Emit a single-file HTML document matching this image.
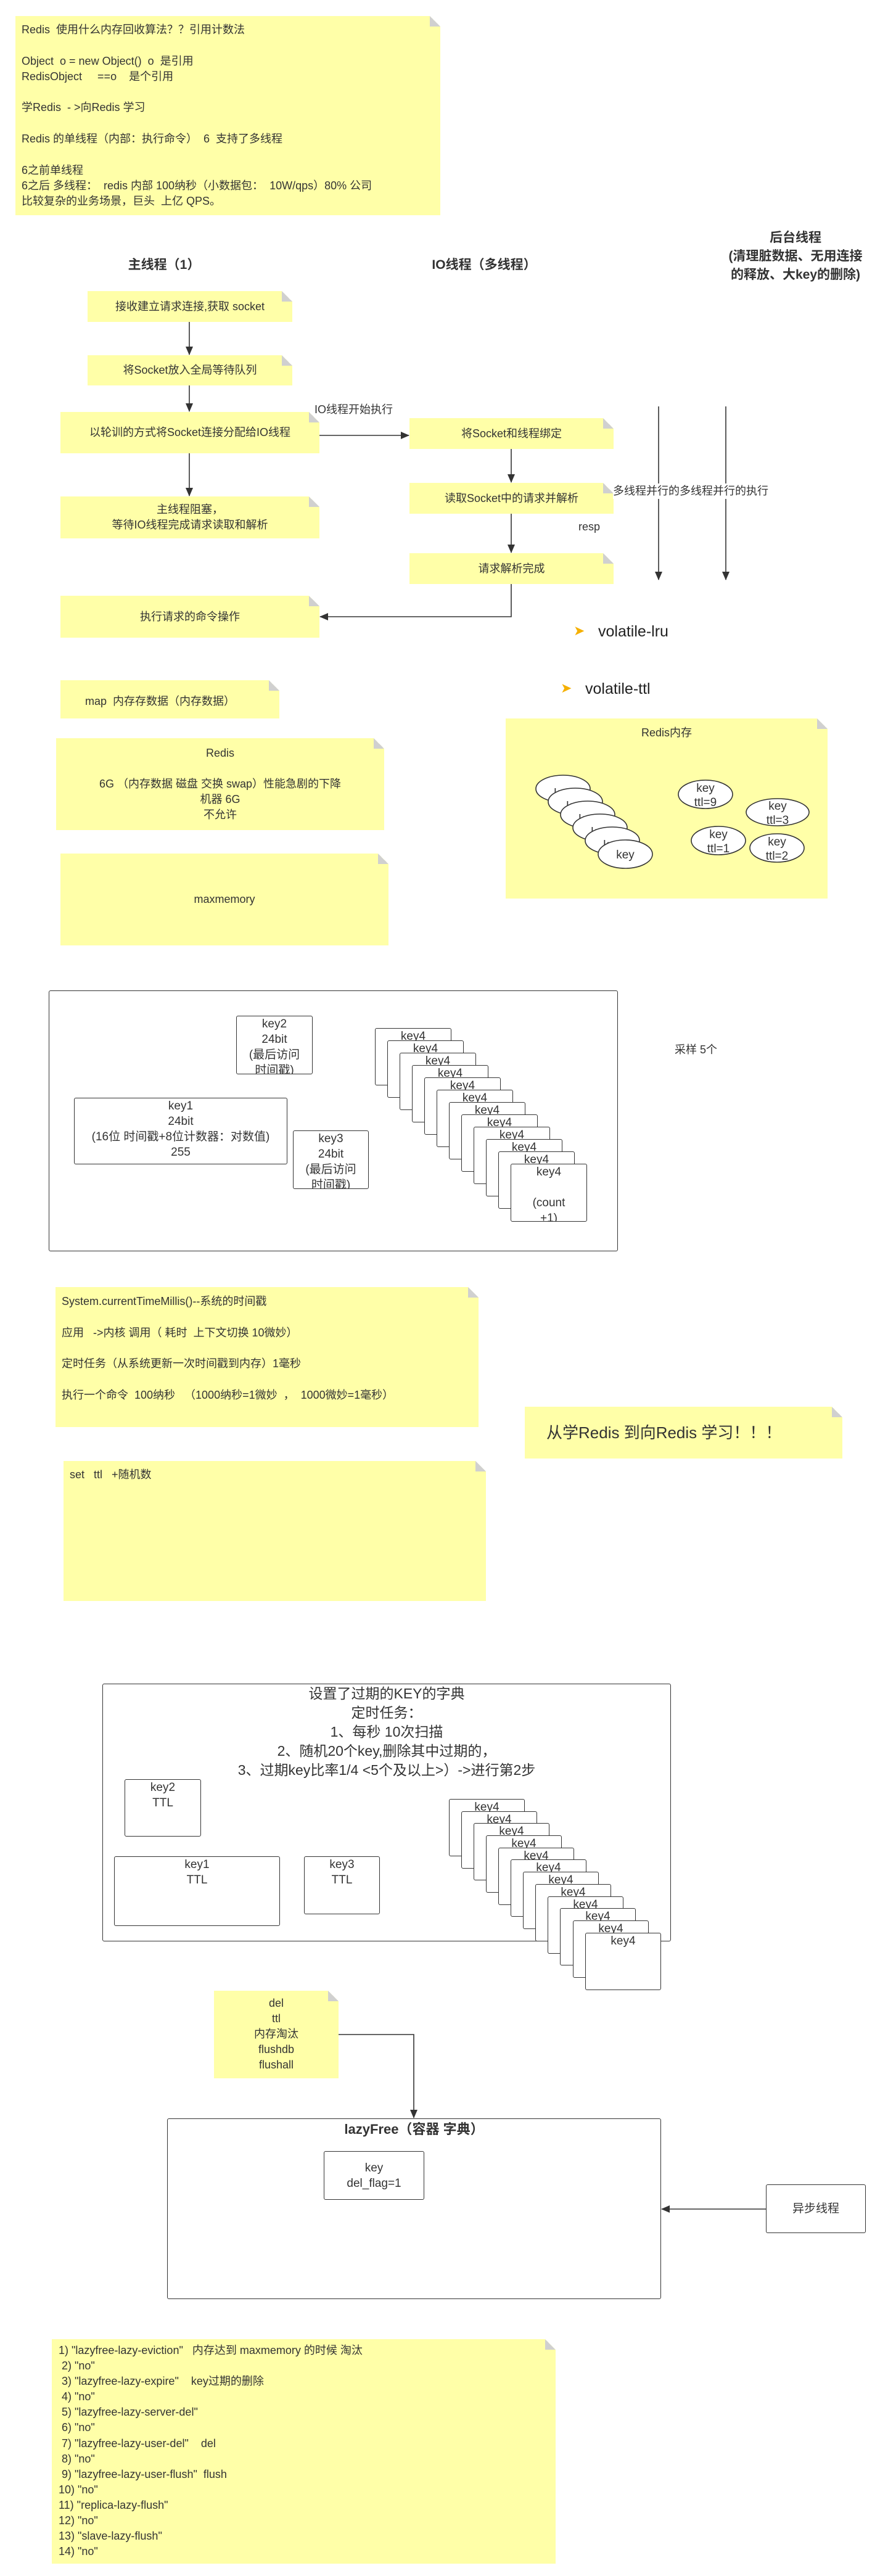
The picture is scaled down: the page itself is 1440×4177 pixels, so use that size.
<!DOCTYPE html>
<html><head><meta charset="utf-8">
<style>
*{margin:0;padding:0;box-sizing:border-box}
body{width:1440px;height:4177px;position:relative;background:#fff;font-family:"Liberation Sans","Noto Sans CJK SC",sans-serif;color:#333;font-size:18px;overflow:hidden}
.n{position:absolute;background:#ffffa8;clip-path:polygon(0 0,calc(100% - 17px) 0,100% 17px,100% 100%,0 100%)}
.n::after{content:"";position:absolute;right:0;top:0;width:17px;height:17px;background:linear-gradient(to top right,#d0d0d0 50%,transparent 50%)}
.c{display:flex;align-items:center;justify-content:center;text-align:center;line-height:25px}
.t{position:absolute;white-space:pre;line-height:25px}
.b{position:absolute;border:1.5px solid #333;border-radius:3px;background:#fff}
.k{position:absolute;border:1.5px solid #333;border-radius:3px;background:#fff;text-align:center;line-height:25px;font-size:19px;overflow:hidden}
.h{position:absolute;font-weight:bold;font-size:21px;text-align:center;line-height:30px;white-space:pre}
svg{position:absolute;left:0;top:0}
</style></head><body>

<div class="n" style="left:25px;top:26px;width:689px;height:323px;padding:10px 0 0 10px"><div style="white-space:pre;line-height:25.3px">Redis  使用什么内存回收算法？？引用计数法

Object  o = new Object()  o  是引用
RedisObject     ==o    是个引用

学Redis  - >向Redis 学习

Redis 的单线程（内部：执行命令）  6  支持了多线程

6之前单线程
6之后 多线程：  redis 内部 100纳秒（小数据包：  10W/qps）80% 公司
比较复杂的业务场景，巨头  上亿 QPS。</div></div>

<div class="h" style="left:166px;top:415px;width:200px">主线程（1）</div>
<div class="h" style="left:665px;top:415px;width:240px">IO线程（多线程）</div>
<div class="h" style="left:1150px;top:371px;width:280px;line-height:30px">后台线程
(清理脏数据、无用连接
的释放、大key的删除)</div>

<div class="n c" style="left:142px;top:472px;width:332px;height:50px">接收建立请求连接,获取 socket</div>
<div class="n c" style="left:142px;top:576px;width:332px;height:49px">将Socket放入全局等待队列</div>
<div class="n c" style="left:98px;top:668px;width:420px;height:67px">以轮训的方式将Socket连接分配给IO线程</div>
<div class="n c" style="left:98px;top:805px;width:420px;height:68px">主线程阻塞，<br>等待IO线程完成请求读取和解析</div>
<div class="n c" style="left:98px;top:966px;width:420px;height:68px">执行请求的命令操作</div>

<div class="n c" style="left:664px;top:678px;width:331px;height:50px">将Socket和线程绑定</div>
<div class="n c" style="left:664px;top:783px;width:331px;height:50px">读取Socket中的请求并解析</div>
<div class="n c" style="left:664px;top:897px;width:331px;height:50px">请求解析完成</div>

<svg width="1440" height="4177" style="z-index:1">
<defs><marker id="a" markerWidth="10" markerHeight="10" refX="9" refY="5" orient="auto" markerUnits="userSpaceOnUse"><path d="M0,0 L10,5 L0,10 z" fill="#333"/></marker>
<marker id="a2" markerWidth="14" markerHeight="12" refX="13" refY="6" orient="auto" markerUnits="userSpaceOnUse"><path d="M0,0 L14,6 L0,12 z" fill="#333"/></marker></defs>
<g stroke="#333" stroke-width="1.6" fill="none" marker-end="url(#a2)">
<line x1="307" y1="522" x2="307" y2="575"/>
<line x1="307" y1="625" x2="307" y2="667"/>
<line x1="307" y1="735" x2="307" y2="804"/>
<path d="M518,706 L663,706"/>
<line x1="829" y1="728" x2="829" y2="782"/>
<line x1="829" y1="833" x2="829" y2="896"/>
<path d="M829,947 L829,1000 L519,1000"/>
<line x1="1068" y1="659" x2="1068" y2="940"/>
<line x1="1177" y1="659" x2="1177" y2="940"/>
<path d="M549,3299 L671,3299 L671,3434"/>
<line x1="1242" y1="3582" x2="1073" y2="3582"/>
</g>
</svg>
<div class="t" style="left:510px;top:652px;z-index:2">IO线程开始执行</div>
<div class="t" style="left:994px;top:784px;background:#fff;z-index:2">多线程并行的多线程并行的执行</div>
<div class="t" style="left:938px;top:842px;z-index:2">resp</div>

<div class="t" style="left:930px;top:1008px;font-size:22px;color:#f5b000;line-height:30px">➤</div>
<div class="t" style="left:970px;top:1008px;font-size:25px;color:#222;line-height:32px">volatile-lru</div>
<div class="t" style="left:909px;top:1101px;font-size:22px;color:#f5b000;line-height:30px">➤</div>
<div class="t" style="left:949px;top:1101px;font-size:25px;color:#222;line-height:32px">volatile-ttl</div>

<div class="n" style="left:98px;top:1103px;width:355px;height:62px"><div class="t" style="left:40px;top:22px">map  内存存数据（内存数据）</div></div>
<div class="n c" style="left:91px;top:1197px;width:532px;height:149px;align-items:flex-start;padding-top:12px">Redis<br><br>6G （内存数据  磁盘 交换 swap）性能急剧的下降<br>机器 6G<br>不允许</div>
<div class="n c" style="left:98px;top:1384px;width:532px;height:149px">maxmemory</div>

<div class="n" style="left:820px;top:1165px;width:522px;height:292px"><div class="t" style="left:0;width:522px;text-align:center;top:11px">Redis内存</div></div>
<svg width="1440" height="4177" style="z-index:3">
<g stroke="#333" stroke-width="1.6" fill="#fff" font-family="Liberation Sans,Noto Sans CJK SC,sans-serif" font-size="19" text-anchor="middle">
<ellipse cx="913" cy="1279" rx="44" ry="22"/><text x="913" y="1292" stroke="none" fill="#333">key</text>
<ellipse cx="933" cy="1300" rx="44" ry="22"/><text x="933" y="1313" stroke="none" fill="#333">key</text>
<ellipse cx="953" cy="1321" rx="44" ry="22"/><text x="953" y="1334" stroke="none" fill="#333">key</text>
<ellipse cx="973" cy="1342" rx="44" ry="22"/><text x="973" y="1355" stroke="none" fill="#333">key</text>
<ellipse cx="993" cy="1363" rx="44" ry="22"/><text x="993" y="1376" stroke="none" fill="#333">key</text>
<ellipse cx="1014" cy="1385" rx="44" ry="23"/><text x="1014" y="1392" stroke="none" fill="#333">key</text>
<ellipse cx="1144" cy="1288" rx="44" ry="23"/><text x="1144" y="1284" stroke="none" fill="#333">key</text><text x="1144" y="1307" stroke="none" fill="#333">ttl=9</text>
<ellipse cx="1261" cy="1317" rx="51" ry="22"/><text x="1261" y="1313" stroke="none" fill="#333">key</text><text x="1261" y="1336" stroke="none" fill="#333">ttl=3</text>
<ellipse cx="1165" cy="1363" rx="44" ry="23"/><text x="1165" y="1359" stroke="none" fill="#333">key</text><text x="1165" y="1382" stroke="none" fill="#333">ttl=1</text>
<ellipse cx="1260" cy="1375" rx="44" ry="23"/><text x="1260" y="1371" stroke="none" fill="#333">key</text><text x="1260" y="1394" stroke="none" fill="#333">ttl=2</text>
</g></svg>

<div class="b" style="left:79px;top:1606px;width:923px;height:423px"></div>
<div class="k" style="left:383px;top:1647px;width:124px;height:95px">key2<br>24bit<br>(最后访问<br>时间戳)</div>
<div class="k" style="left:120px;top:1780px;width:346px;height:108px">key1<br>24bit<br>(16位 时间戳+8位计数器：对数值)<br>255</div>
<div class="k" style="left:475px;top:1833px;width:123px;height:95px">key3<br>24bit<br>(最后访问<br>时间戳)</div>
<div class="k" style="left:608px;top:1667px;width:124px;height:93px">key4</div>
<div class="k" style="left:628px;top:1687px;width:124px;height:93px">key4</div>
<div class="k" style="left:648px;top:1707px;width:124px;height:93px">key4</div>
<div class="k" style="left:668px;top:1727px;width:124px;height:93px">key4</div>
<div class="k" style="left:688px;top:1747px;width:124px;height:93px">key4</div>
<div class="k" style="left:708px;top:1767px;width:124px;height:93px">key4</div>
<div class="k" style="left:728px;top:1787px;width:124px;height:93px">key4</div>
<div class="k" style="left:748px;top:1807px;width:124px;height:93px">key4</div>
<div class="k" style="left:768px;top:1827px;width:124px;height:93px">key4</div>
<div class="k" style="left:788px;top:1847px;width:124px;height:93px">key4</div>
<div class="k" style="left:808px;top:1867px;width:124px;height:93px">key4</div>
<div class="k" style="left:828px;top:1887px;width:124px;height:94px">key4<br><br>(count<br>+1)</div>
<div class="t" style="left:1094px;top:1690px">采样 5个</div>

<div class="n" style="left:90px;top:2087px;width:686px;height:227px"><div class="t" style="left:10px;top:11px;line-height:25.3px">System.currentTimeMillis()--系统的时间戳

应用   ->内核 调用（ 耗时  上下文切换 10微妙）

定时任务（从系统更新一次时间戳到内存）1毫秒

执行一个命令  100纳秒   （1000纳秒=1微妙  ，  1000微妙=1毫秒）</div></div>
<div class="n" style="left:851px;top:2281px;width:515px;height:84px"><div class="t" style="left:35px;top:24px;font-size:26px;line-height:36px">从学Redis 到向Redis 学习！！！</div></div>
<div class="n" style="left:103px;top:2369px;width:685px;height:227px"><div class="t" style="left:10px;top:10px">set   ttl   +随机数</div></div>

<div class="b" style="left:166px;top:2730px;width:922px;height:418px"></div>
<div class="t" style="left:166px;top:2731px;width:922px;text-align:center;font-size:23px;line-height:31px">设置了过期的KEY的字典
定时任务：
1、每秒 10次扫描
2、随机20个key,删除其中过期的，
3、过期key比率1/4 &lt;5个及以上&gt;）-&gt;进行第2步</div>
<div class="k" style="left:202px;top:2885px;width:124px;height:93px;padding-top:0">key2<br>TTL</div>
<div class="k" style="left:185px;top:3010px;width:269px;height:113px">key1<br>TTL</div>
<div class="k" style="left:493px;top:3010px;width:123px;height:94px">key3<br>TTL</div>
<div class="k" style="left:728px;top:2917px;width:123px;height:93px">key4</div>
<div class="k" style="left:748px;top:2937px;width:123px;height:93px">key4</div>
<div class="k" style="left:768px;top:2956px;width:123px;height:93px">key4</div>
<div class="k" style="left:788px;top:2976px;width:123px;height:93px">key4</div>
<div class="k" style="left:808px;top:2996px;width:123px;height:93px">key4</div>
<div class="k" style="left:828px;top:3015px;width:123px;height:93px">key4</div>
<div class="k" style="left:848px;top:3035px;width:123px;height:93px">key4</div>
<div class="k" style="left:868px;top:3055px;width:123px;height:93px">key4</div>
<div class="k" style="left:888px;top:3075px;width:123px;height:93px">key4</div>
<div class="k" style="left:908px;top:3094px;width:123px;height:93px">key4</div>
<div class="k" style="left:929px;top:3114px;width:123px;height:93px">key4</div>
<div class="k" style="left:949px;top:3134px;width:123px;height:93px">key4</div>

<div class="n c" style="left:347px;top:3228px;width:202px;height:142px;align-items:flex-start;padding-top:8px">del<br>ttl<br>内存淘汰<br>flushdb<br>flushall</div>

<div class="b" style="left:271px;top:3435px;width:801px;height:293px"></div>
<div class="h" style="left:271px;top:3438px;width:801px;font-size:22px">lazyFree（容器 字典）</div>
<div class="k" style="left:525px;top:3488px;width:163px;height:79px;padding-top:14px">key<br>del_flag=1</div>
<div class="k c" style="left:1242px;top:3542px;width:162px;height:79px;display:flex">异步线程</div>

<div class="n" style="left:84px;top:3793px;width:817px;height:364px"><div class="t" style="left:11px;top:6px;line-height:25.1px">1) "lazyfree-lazy-eviction"   内存达到 maxmemory 的时候 淘汰
 2) "no"
 3) "lazyfree-lazy-expire"    key过期的删除
 4) "no"
 5) "lazyfree-lazy-server-del"
 6) "no"
 7) "lazyfree-lazy-user-del"    del
 8) "no"
 9) "lazyfree-lazy-user-flush"  flush
10) "no"
11) "replica-lazy-flush"
12) "no"
13) "slave-lazy-flush"
14) "no"</div></div>

</body></html>
